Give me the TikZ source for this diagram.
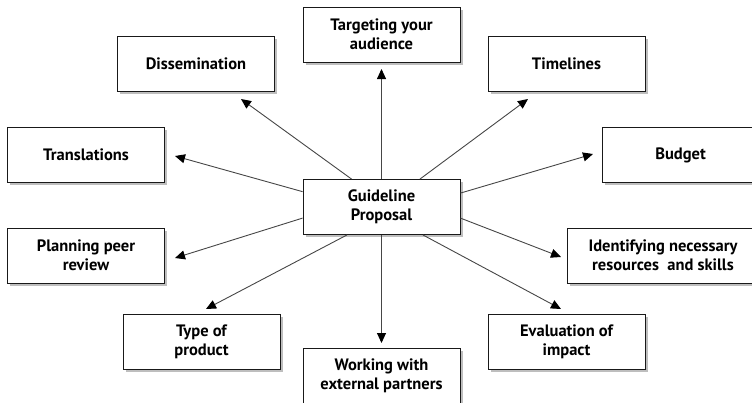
\documentclass[tikz,border=0pt]{standalone}
\usepackage{fontspec}
\setmainfont{PT Sans}
\usepackage{tikz}
\usetikzlibrary{
  arrows.meta,
  shadows
}
\definecolor{boxline}{RGB}{25, 25, 25}
\definecolor{spokeclr}{RGB}{70, 70, 70}
\definecolor{shadowclr}{RGB}{190, 190, 190}
\tikzset{
  % Boxes
  topicbox/.style = {draw=boxline, line width=0.9pt, fill=white,
                     minimum width=157pt, minimum height=55pt, inner sep=2pt,
                     align=center, font=\fontsize{16.5}{19}\selectfont\bfseries,
                     drop shadow={shadow xshift=2.5pt, shadow yshift=-2.5pt,
                                  fill=shadowclr, opacity=1}},
  widebox/.style  = {topicbox, minimum width=192pt},
  % Arrows
  spoke/.style    = {draw=spokeclr, line width=0.9pt,
                     -{Triangle[length=10pt, width=9pt, black]}},
}
\begin{document}
\begin{tikzpicture}[x=1pt, y=-1pt]
  \useasboundingbox (0,0) rectangle (752,402);
  % Centre
  \node[topicbox] (guide) at (381.5,207) {Guideline\\Proposal};
  % Outer boxes
  \node[topicbox] (target) at (381.5,34.5)  {Targeting your\\audience};
  \node[topicbox] (dissem) at (196,63.5)    {Dissemination};
  \node[topicbox] (timeln) at (566.5,63.5)  {Timelines};
  \node[topicbox] (transl) at (86,154.5)    {Translations};
  \node[topicbox] (budget) at (680.5,155)   {Budget};
  \node[topicbox] (peerrv) at (86,255.5)    {Planning peer\\review};
  \node[widebox]  (resrcs) at (663,255.5)   {Identifying necessary\\resources~ and skills};
  \node[topicbox] (prodct) at (201.5,341.5) {Type of\\product};
  \node[topicbox] (partnr) at (381.5,375.5) {Working with\\external partners};
  \node[topicbox] (evalim) at (566.5,341.5) {Evaluation of\\impact};
  % Arrow tips
  \coordinate (targetTip) at (381.5,69);
  \coordinate (dissemTip) at (241,99);
  \coordinate (timelnTip) at (528,99);
  \coordinate (translTip) at (175,156);
  \coordinate (budgetTip) at (593,154);
  \coordinate (peerrvTip) at (175,258);
  \coordinate (resrcsTip) at (561,257);
  \coordinate (prodctTip) at (206,309);
  \coordinate (partnrTip) at (381.5,343);
  \coordinate (evalimTip) at (561,309);
  % Spokes
  \draw[spoke] (guide.90)    -- (targetTip);
  \draw[spoke] (guide.137.4) -- (dissemTip);
  \draw[spoke] (guide.36.7)  -- (timelnTip);
  \draw[spoke] (guide.169.9) -- (translTip);
  \draw[spoke] (guide.10.1)  -- (budgetTip);
  \draw[spoke] (guide.188)   -- (peerrvTip);
  \draw[spoke] (guide.352.7) -- (resrcsTip);
  \draw[spoke] (guide.219.1) -- (prodctTip);
  \draw[spoke] (guide.270)   -- (partnrTip);
  \draw[spoke] (guide.326)   -- (evalimTip);
\end{tikzpicture}
\end{document}
